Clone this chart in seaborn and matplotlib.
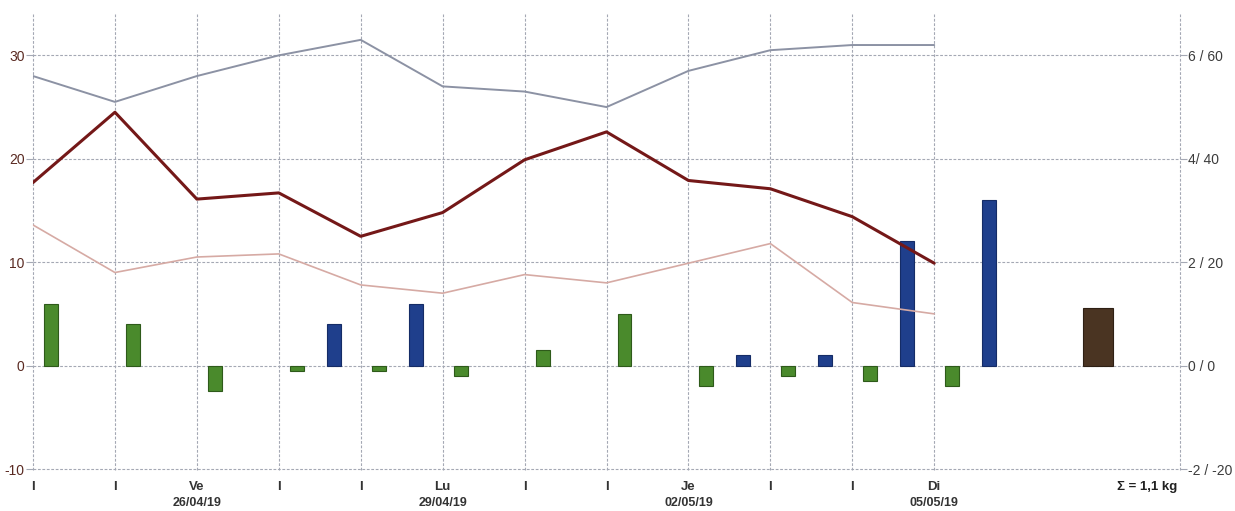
import numpy as np
import pandas as pd
import matplotlib.pyplot as plt
import seaborn as sns

# daily values, one slot per day starting 24/04/19
days = list(range(12))
grey_line = [28.0, 25.5, 28.0, 30.0, 31.5, 27.0, 26.5, 25.0, 28.5, 30.5, 31.0, 31.0]
red_line = [17.7, 24.5, 16.1, 16.7, 12.5, 14.8, 19.9, 22.6, 17.9, 17.1, 14.4, 9.9]
pink_line = [13.6, 9.0, 10.5, 10.8, 7.8, 7.0, 8.8, 8.0, 9.9, 11.8, 6.1, 5.0]
green_bars = [6, 4, -2.5, -0.5, -0.5, -1, 1.5, 5, -2, -1, -1.5, -2]
blue_days = [3, 4, 8, 9, 10, 11]
blue_bars = [4, 6, 1, 1, 12, 16]
total_day = 13
total_bar = 5.6

left_ticks = [30, 20, 10, 0, -10]
right_labels = ['6 / 60', '4/ 40', '2 / 20', '0 / 0', '-2 / -20']
day_names = {2: 'Ve', 5: 'Lu', 8: 'Je', 11: 'Di'}
dates = {2: '26/04/19', 5: '29/04/19', 8: '02/05/19', 11: '05/05/19'}
total_label = '\u03a3 = 1,1 kg'

df = pd.DataFrame({'day': days, 'grey': grey_line, 'red': red_line,
                   'pink': pink_line, 'green': green_bars})

sns.set_style('white')
plt.rcParams['font.family'] = ['Liberation Sans', 'DejaVu Sans']

fig = plt.figure(figsize=(12.35, 5.11), dpi=100)
ax = fig.add_axes([33 / 1235, 1 - 469 / 511, (1180 - 33) / 1235, (469 - 14) / 511])

grid_kw = dict(color='#a4a8b4', lw=0.8, ls=(0, (2.5, 1.5)), zorder=0, clip_on=False)
for x in days + [14]:
    ax.axvline(x, ymax=1.0, ymin=-0.003, **grid_kw)
for y in left_ticks:
    ax.axhline(y, **grid_kw)

# bars
ax.bar(np.array(days) + 0.22, green_bars, width=0.17, color='#4a8a2c',
       edgecolor='#2e5a1a', lw=0.8, zorder=2)
ax.bar(np.array(blue_days) + 0.67, blue_bars, width=0.17, color='#1f3f8c',
       edgecolor='#152c66', lw=0.8, zorder=2)
ax.bar([total_day], [total_bar], width=0.36, color='#4a3422',
       edgecolor='#2e2014', lw=0.8, zorder=2)

# lines
sns.lineplot(data=df, x='day', y='pink', color='#d6aaa4', lw=1.2, ax=ax, zorder=3)
sns.lineplot(data=df, x='day', y='grey', color='#8c92a4', lw=1.4, ax=ax, zorder=3)
sns.lineplot(data=df, x='day', y='red', color='#741818', lw=2.2, ax=ax, zorder=4)

ax.set_xlim(0, 14)
ax.set_ylim(-10, 34)
ax.set_xlabel('')
ax.set_ylabel('')
ax.set_xticks([])
ax.set_yticks(left_ticks)
ax.set_yticklabels([str(t) for t in left_ticks], color='#5a2a22', fontsize=10)
ax.tick_params(axis='y', length=5, width=0.8, color='#a4a8b4', pad=1)
for s in ax.spines.values():
    s.set_visible(False)

ax2 = ax.twinx()
ax2.set_ylim(-10, 34)
ax2.set_yticks(left_ticks)
ax2.set_yticklabels(right_labels, color='#3c3c3c', fontsize=10)
ax2.tick_params(axis='y', length=5, width=0.8, color='#a4a8b4', pad=1)
for s in ax2.spines.values():
    s.set_visible(False)

# x axis texts below the plot
trans = ax.get_xaxis_transform()
for d in days:
    label = day_names.get(d, 'I')
    ax.text(d, -0.04, label, transform=trans, ha='center', va='center',
            fontsize=9.5, fontweight='bold', color='#333333')
    if d in dates:
        ax.text(d, -0.075, dates[d], transform=trans, ha='center', va='center',
                fontsize=9, fontweight='bold', color='#333333')
ax.text(13.6, -0.04, total_label, transform=trans, ha='center', va='center',
        fontsize=9.5, fontweight='bold', color='#222222')

fig.savefig('out.png', dpi=100)
